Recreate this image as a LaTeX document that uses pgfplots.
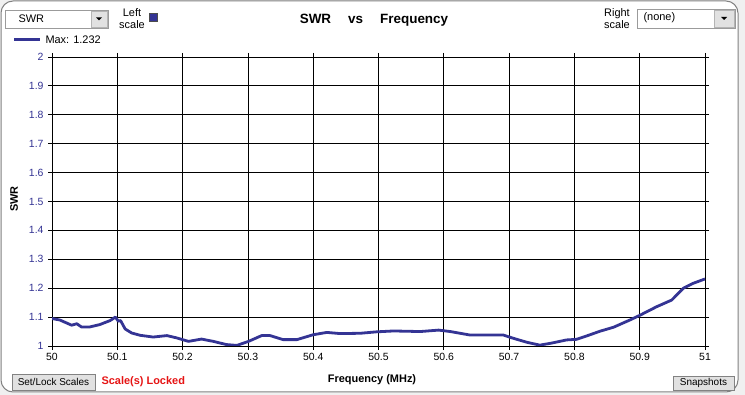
\documentclass[border=0pt]{standalone}
\usepackage{pgfplots}
\pgfplotsset{compat=1.18}
\usepackage{fontspec}
\setmainfont{Liberation Sans}
\definecolor{swr}{RGB}{52,52,148}
\definecolor{winbg}{RGB}{240,240,240}
\definecolor{frame}{RGB}{130,130,130}
\definecolor{btn}{RGB}{225,225,225}
\definecolor{lockred}{RGB}{230,20,20}
\newcommand{\uf}{\fontsize{11}{12}\selectfont}
\newcommand{\btnf}{\fontsize{10}{11}\selectfont}
\begin{document}
\begin{tikzpicture}
\useasboundingbox (0bp,0bp) rectangle (745bp,395bp);
\fill[winbg] (0bp,0bp) rectangle (745bp,395bp);
\draw[frame,fill=white,line width=1bp,rounded corners=12bp] (1bp,3bp) rectangle (738bp,394bp);
\begin{axis}[
  at={(52bp,49bp)}, anchor=south west, scale only axis,
  width=653bp, height=289bp,
  xmin=50, xmax=51, ymin=1, ymax=2,
  xtick={50,50.1,...,51.01}, ytick={1,1.1,...,2.01},
  xticklabels={50,50.1,50.2,50.3,50.4,50.5,50.6,50.7,50.8,50.9,51},
  yticklabels={1,1.1,1.2,1.3,1.4,1.5,1.6,1.7,1.8,1.9,2},
  grid=major, major grid style={black, line width=0.8bp},
  axis line style={black, line width=0.8bp},
  tick style={black, line width=0.8bp},
  tick align=outside, major tick length=4bp,
  tick label style={font=\fontsize{10.5}{12}\selectfont},
  yticklabel style={text=swr, xshift=-1bp},
  /pgf/number format/assume math mode=true,
  clip=true,
]
\addplot[swr, line width=2.8bp, line join=round] coordinates {
(50.000,1.095) (50.012,1.090) (50.030,1.072) (50.038,1.077) (50.045,1.066)
(50.058,1.066) (50.073,1.074) (50.089,1.088) (50.097,1.100) (50.1015,1.086)
(50.105,1.088) (50.112,1.059) (50.122,1.045) (50.135,1.037) (50.155,1.031)
(50.176,1.036) (50.191,1.028) (50.209,1.016) (50.229,1.024) (50.247,1.016)
(50.267,1.005) (50.283,1.002) (50.301,1.016) (50.321,1.036) (50.334,1.036)
(50.354,1.022) (50.375,1.022) (50.400,1.039) (50.421,1.047) (50.441,1.043)
(50.472,1.044) (50.497,1.049) (50.523,1.052) (50.564,1.050) (50.592,1.055)
(50.610,1.050) (50.640,1.038) (50.691,1.038) (50.706,1.027) (50.727,1.013)
(50.747,1.003) (50.765,1.010) (50.788,1.021) (50.803,1.023) (50.819,1.035)
(50.839,1.051) (50.860,1.065) (50.885,1.090) (50.900,1.106) (50.926,1.136)
(50.949,1.159) (50.967,1.200) (50.982,1.217) (51.000,1.232)
};
\end{axis}
\begin{scope}[x=1bp,y=1bp]
% y label
\node[rotate=90,font=\bfseries\uf] at (14,196) {SWR};
% x label
\node[font=\bfseries\uf] at (372,15) {Frequency (MHz)};
% title
\node[font=\bfseries\fontsize{13.5}{15}\selectfont] at (374,375) {SWR\hspace{17bp}vs\hspace{17bp}Frequency};
% left combobox
\draw[frame!80,fill=white] (5,367) rectangle (108,385);
\draw[frame!60,fill=btn] (91,368) rectangle (107,384);
\fill[black] (96,377.5) -- (102,377.5) -- (99,374.5) -- cycle;
\node[anchor=west,font=\uf] at (15,376) {SWR};
\node[font=\uf,align=center,inner sep=0pt] at (132,376) {Left\\scale};
\draw[black!70,fill=swr] (149,374) rectangle (157,382);
% legend
\draw[swr,line width=3bp] (14,355) -- (40,355);
\node[anchor=west,font=\uf] at (42,355) {Max: 1.232};
% right scale
\node[font=\uf,align=right,inner sep=0pt,anchor=east] at (630,376) {Right\\scale};
\draw[frame!80,fill=white] (637,367) rectangle (735,386);
\draw[frame!60,fill=btn] (714,368) rectangle (734,385);
\fill[black] (721,378) -- (727,378) -- (724,375) -- cycle;
\node[anchor=west,font=\uf] at (640,377) {(none)};
% bottom buttons
\draw[frame,fill=btn] (12,5) rectangle (95,21);
\node[font=\btnf] at (53.5,13) {Set/Lock Scales};
\node[anchor=west,font=\bfseries\uf,text=lockred] at (98,13) {Scale(s) Locked};
\draw[frame,fill=btn] (673,5) rectangle (734,19);
\node[font=\btnf] at (703.5,12) {Snapshots};
\end{scope}
\end{tikzpicture}
\end{document}
